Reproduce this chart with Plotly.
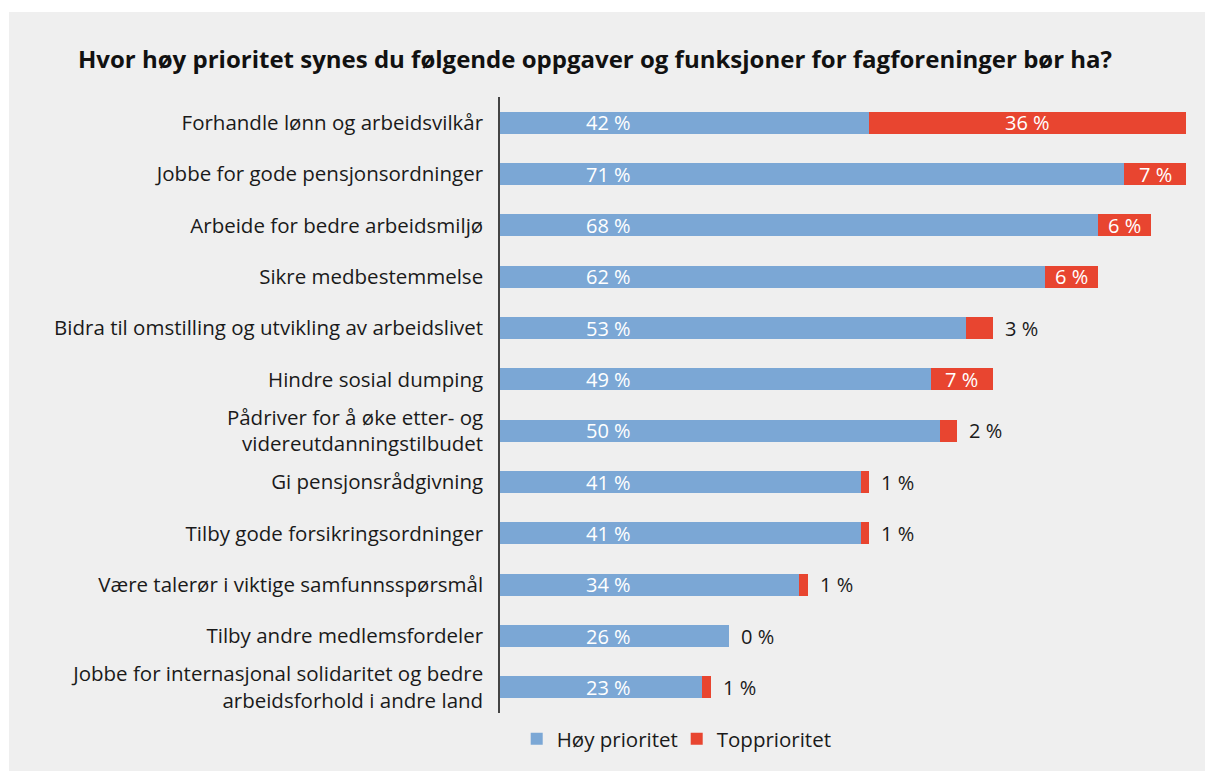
import plotly.graph_objects as go

categories = [
    "Forhandle lønn og arbeidsvilkår",
    "Jobbe for gode pensjonsordninger",
    "Arbeide for bedre arbeidsmiljø",
    "Sikre medbestemmelse",
    "Bidra til omstilling og utvikling av arbeidslivet",
    "Hindre sosial dumping",
    "Pådriver for å øke etter- og<br>videreutdanningstilbudet",
    "Gi pensjonsrådgivning",
    "Tilby gode forsikringsordninger",
    "Være talerør i viktige samfunnsspørsmål",
    "Tilby andre medlemsfordeler",
    "Jobbe for internasjonal solidaritet og bedre<br>arbeidsforhold i andre land",
]
hoy = [42, 71, 68, 62, 53, 49, 50, 41, 41, 34, 26, 23]
topp = [36, 7, 6, 6, 3, 7, 2, 1, 1, 1, 0, 1]

BLUE = "#7BA7D5"
RED = "#E84530"
BG = "#EFEFEF"
FONT = "Open Sans"

fig = go.Figure()
fig.add_trace(go.Bar(y=categories, x=hoy, orientation="h", name="Høy prioritet",
                     marker=dict(color=BLUE, line=dict(width=0)), width=0.43,
                     hoverinfo="x+y"))
fig.add_trace(go.Bar(y=categories, x=topp, orientation="h", name="Topprioritet",
                     marker=dict(color=RED, line=dict(width=0)), width=0.43,
                     hoverinfo="x+y"))

annotations = []
for cat, h, t in zip(categories, hoy, topp):
    annotations.append(dict(x=12.3, y=cat, xref="x", yref="y", text=f"{h} %",
                            showarrow=False, xanchor="center",
                            font=dict(family=FONT, size=20, color="white")))
    if t >= 5:
        annotations.append(dict(x=h + t / 2, y=cat, xref="x", yref="y", text=f"{t} %",
                                showarrow=False, xanchor="center",
                                font=dict(family=FONT, size=20, color="white")))
    else:
        annotations.append(dict(x=h + t, y=cat, xref="x", yref="y", text=f"{t} %",
                                showarrow=False, xanchor="left", xshift=10,
                                font=dict(family=FONT, size=20, color="#1a1a1a")))

fig.update_layout(
    width=1205, height=771,
    margin=dict(l=500, r=19, t=97, b=58),
    paper_bgcolor="white",
    plot_bgcolor="rgba(0,0,0,0)",
    barmode="stack",
    bargap=0.57,
    font=dict(family=FONT, size=20, color="#1a1a1a"),
    title=dict(text="<b>Hvor høy prioritet synes du følgende oppgaver og funksjoner for fagforeninger bør ha?</b>",
               x=595 / 1205, xref="container", xanchor="center", y=1 - 60 / 771, yanchor="middle",
               font=dict(family=FONT, size=24, color="#111111")),
    xaxis=dict(range=[0, 78], visible=False, fixedrange=True),
    yaxis=dict(autorange=False, range=[11.5, -0.5], type="category", showgrid=False,
               showline=True, linecolor="#444444", linewidth=1.5, ticks="", fixedrange=True,
               ticklabelstandoff=11, tickfont=dict(family=FONT, size=20.5, color="#1a1a1a")),
    legend=dict(orientation="h", x=0.2576, xanchor="center", y=-0.042, yanchor="middle",
                font=dict(family=FONT, size=20.5, color="#1a1a1a"), bgcolor="rgba(0,0,0,0)",
                traceorder="normal", entrywidth=115),
    showlegend=True,
    annotations=annotations,
    shapes=[dict(type="rect", xref="paper", yref="paper", x0=(9 - 500) / 686, x1=1.2,
                 y0=-0.2, y1=(713 - 12) / 616, fillcolor=BG, line=dict(width=0), layer="below")],
)

fig.write_html("out.html", config={"displayModeBar": False},
               post_script="document.body.style.margin='0';document.body.style.overflow='hidden';")
